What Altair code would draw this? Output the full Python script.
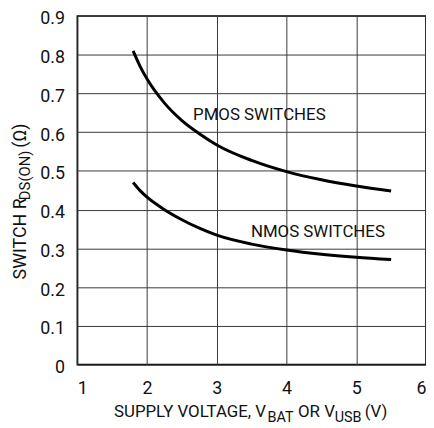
import altair as alt
import pandas as pd

# PMOS switch on-resistance vs supply voltage
pmos_v = [1.8, 1.9, 2.0, 2.25, 2.5, 2.75, 3.0, 3.5, 4.0, 4.5, 5.0, 5.5]
pmos_r = [0.81, 0.770, 0.737, 0.675, 0.630, 0.596, 0.567, 0.527, 0.498, 0.477, 0.461, 0.448]
# NMOS switch on-resistance vs supply voltage
nmos_v = [1.8, 1.9, 2.0, 2.25, 2.5, 2.75, 3.0, 3.5, 4.0, 4.5, 5.0, 5.5]
nmos_r = [0.470, 0.449, 0.432, 0.400, 0.374, 0.352, 0.334, 0.311, 0.296, 0.285, 0.277, 0.271]

x_ticks = [1, 2, 3, 4, 5, 6]
y_ticks = [0, 0.1, 0.2, 0.3, 0.4, 0.5, 0.6, 0.7, 0.8, 0.9]

labels = ["PMOS SWITCHES", "NMOS SWITCHES"]
label_v = [3.61, 4.45]
label_r = [0.631, 0.330]

FONT = "Roboto"
INK = "#111"

df = pd.concat([
    pd.DataFrame({"v": pmos_v, "r": pmos_r, "s": "PMOS"}),
    pd.DataFrame({"v": nmos_v, "r": nmos_r, "s": "NMOS"}),
])
lab = pd.DataFrame({"t": labels, "v": label_v, "r": label_r})

xs = alt.Scale(domain=[1, 6], nice=False)
ys = alt.Scale(domain=[0, 0.9], nice=False)

xax = alt.Axis(values=x_ticks, format="d", title=None, ticks=False, domain=False,
               labelPadding=15, labelFont=FONT, labelFontSize=18, labelColor=INK,
               labelOverlap=False, gridColor="#3a3a3a", gridWidth=1, gridOpacity=1)
yax = alt.Axis(values=y_ticks, title=None, ticks=False, domain=False, labelPadding=13,
               labelOffset=3, labelFont=FONT, labelFontSize=18, labelColor=INK,
               labelOverlap=False, labelFlush=False,
               gridColor="#3a3a3a", gridWidth=1, gridOpacity=1,
               labelExpr="datum.value == 0 ? '0' : format(datum.value, '.1f')")

lines = alt.Chart(df).mark_line(color="black", strokeWidth=3, interpolate="monotone").encode(
    x=alt.X("v:Q", scale=xs, axis=xax),
    y=alt.Y("r:Q", scale=ys, axis=yax),
    detail="s:N",
)

texts = alt.Chart(lab).mark_text(font=FONT, fontSize=17, color=INK, align="center",
                                 baseline="alphabetic").encode(
    x=alt.X("v:Q", scale=xs, axis=xax), y=alt.Y("r:Q", scale=ys, axis=yax), text="t:N")


def piece(t, x, y, size, angle=0):
    return alt.Chart(pd.DataFrame({"t": [t]})).mark_text(
        font=FONT, fontSize=size, color=INK, align="left", baseline="alphabetic",
        angle=angle).encode(x=alt.value(x), y=alt.value(y), text="t:N")


title_layers = [
    piece("SUPPLY VOLTAGE, V", 37, 405, 17),
    piece("BAT", 192, 409.5, 14.5),
    piece("OR V", 222.8, 405, 17),
    piece("USB", 259.8, 409.5, 14.5),
    piece("(V)", 290.1, 405, 17),
    piece("SWITCH R", -52, 266, 18, angle=270),
    piece("DS(ON)", -48, 186, 15, angle=270),
    piece("(Ω)", -52, 133, 18, angle=270),
]

chart = alt.layer(lines, texts, *title_layers).properties(
    width=352, height=352,
    autosize=alt.AutoSizeParams(type="none"),
    padding={"left": 70, "top": 6, "right": 0, "bottom": 60},
).configure_view(stroke="black", strokeWidth=1.6)

chart.save("out.html", embed_options={"renderer": "svg", "actions": False})
